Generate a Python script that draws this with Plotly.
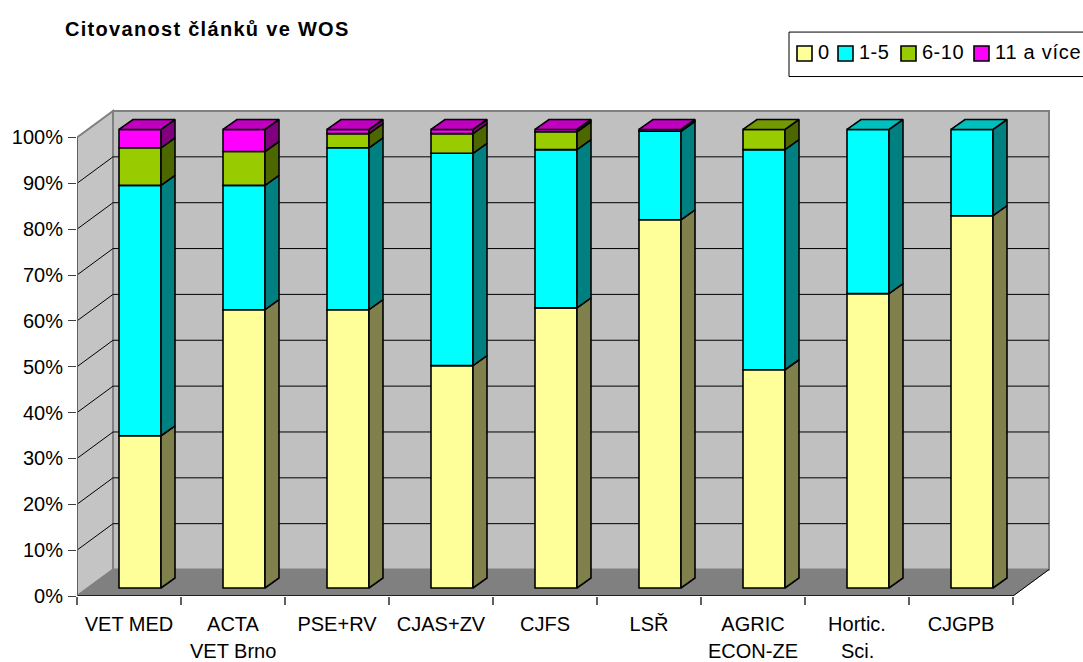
import plotly.graph_objects as go

categories = ["VET MED", "ACTA<br>VET Brno", "PSE+RV", "CJAS+ZV", "CJFS", "LSŘ", "AGRIC<br>ECON-ZE", "Hortic.<br>Sci.", "CJGPB"]
series_names = ["0", "1-5", "6-10", "11 a více"]
values_0 = [33.2, 60.7, 60.7, 48.5, 61.1, 80.3, 47.6, 64.2, 81.2]
values_1_5 = [54.6, 27.1, 35.3, 46.3, 34.5, 19.3, 48.0, 35.8, 18.8]
values_6_10 = [8.2, 7.4, 3.1, 4.3, 3.9, 0.0, 4.4, 0.0, 0.0]
values_11 = [4.0, 4.8, 0.9, 0.9, 0.5, 0.4, 0.0, 0.0, 0.0]
y_ticks = [0, 10, 20, 30, 40, 50, 60, 70, 80, 90, 100]

front_colors = ["#FFFF99", "#00FFFF", "#99CC00", "#FF00FF"]
side_colors = ["#80804D", "#008080", "#4C6600", "#800080"]
top_colors = ["#BFBF73", "#00BFBF", "#739900", "#BF00BF"]

# pixel geometry
PX_L, PX_R, PX_T, PX_B = 77, 1060, 100, 596.5
SLOT, UNIT = 104.0, 4.59
W, H = 1083, 662
wall_dx, wall_dy = 36 / SLOT, 26.5 / UNIT
bar_ox, bar_w = 42 / SLOT, 42 / SLOT
bar_oy = 8 / UNIT
depth_x, depth_y = 14 / SLOT, 10 / UNIT
n = len(categories)
all_series = [values_0, values_1_5, values_6_10, values_11]


def px(x):
    return (x - PX_L) / (PX_R - PX_L)


def py(y):
    return (PX_B - y) / (PX_B - PX_T)


fig = go.Figure()

cum = [0.0] * n
top_by_bar = [(0.0, 0)] * n
side_x, side_y = [[] for _ in all_series], [[] for _ in all_series]
for s, vals in enumerate(all_series):
    xs, ys, bases = [], [], []
    for i, v in enumerate(vals):
        if v <= 0:
            continue
        x0 = i + bar_ox
        x1 = x0 + bar_w
        b = cum[i] + bar_oy
        t = b + v
        xs.append(x0 + bar_w / 2)
        ys.append(v)
        bases.append(b)
        side_x[s] += [x1, x1 + depth_x, x1 + depth_x, x1, x1, None]
        side_y[s] += [b, b + depth_y, t + depth_y, t, b, None]
        cum[i] += v
        top_by_bar[i] = (cum[i], s)
    fig.add_trace(go.Bar(x=xs, y=ys, base=bases, width=bar_w, name=series_names[s],
                         marker=dict(color=front_colors[s], line=dict(color="black", width=1.6)),
                         showlegend=False))

for s in range(len(all_series)):
    fig.add_trace(go.Scatter(x=side_x[s], y=side_y[s], mode="lines", fill="toself",
                             fillcolor=side_colors[s], line=dict(color="black", width=1.6),
                             hoverinfo="skip", showlegend=False))
    tx, ty = [], []
    for i in range(n):
        total, top_s = top_by_bar[i]
        if top_s != s:
            continue
        x0 = i + bar_ox
        x1 = x0 + bar_w
        t = total + bar_oy
        tx += [x0, x0 + depth_x, x1 + depth_x, x1, x0, None]
        ty += [t, t + depth_y, t + depth_y, t, t, None]
    if tx:
        fig.add_trace(go.Scatter(x=tx, y=ty, mode="lines", fill="toself",
                                 fillcolor=top_colors[s], line=dict(color="black", width=1.6),
                                 hoverinfo="skip", showlegend=False))


def poly(points, fill, line=None, width=1.0, layer="below"):
    path = "M " + " L ".join(f"{a},{b}" for a, b in points) + " Z"
    return dict(type="path", path=path, xref="x", yref="y", fillcolor=fill, layer=layer,
                line=dict(color=line or fill, width=width))


def seg(x0, y0, x1, y1, color, width=1.0):
    return dict(type="line", xref="x", yref="y", x0=x0, y0=y0, x1=x1, y1=y1, layer="below",
                line=dict(color=color, width=width))


ymax = y_ticks[-1]
shapes = [
    poly([(wall_dx, wall_dy), (n + wall_dx, wall_dy), (n + wall_dx, ymax + wall_dy), (wall_dx, ymax + wall_dy)],
         "#C0C0C0", "#808080", 2),
    poly([(0, 0), (wall_dx, wall_dy), (wall_dx, ymax + wall_dy), (0, ymax)], "#C4C4C4", "#808080", 2),
    poly([(0, 0), (n, 0), (n + wall_dx, wall_dy), (wall_dx, wall_dy)], "#808080"),
]
for v in y_ticks[1:-1]:
    shapes.append(seg(0, v, wall_dx, v + wall_dy, "black"))
    shapes.append(seg(wall_dx, v + wall_dy, n + wall_dx, v + wall_dy, "black"))
shapes.append(seg(n, 0, n + wall_dx, wall_dy, "black"))
shapes.append(seg(0, 0, n, 0, "black", 1.6))
shapes.append(seg(0, 0, 0, ymax, "#606060", 2))

# legend frame
shapes.append(dict(type="rect", xref="paper", yref="paper", x0=px(789), x1=px(1090), y0=py(32), y1=py(76.5),
                   fillcolor="white", line=dict(color="black", width=1)))
annotations = [dict(text="<b>Citovanost článků ve WOS</b>", xref="paper", yref="paper", x=px(63), y=py(29),
                    xanchor="left", yanchor="middle", showarrow=False,
                    font=dict(family="Liberation Sans", size=20, color="black"))]
swatch_x = [797, 838, 901, 974]
for s, name in enumerate(series_names):
    shapes.append(dict(type="rect", xref="paper", yref="paper", x0=px(swatch_x[s]), x1=px(swatch_x[s] + 15),
                       y0=py(46), y1=py(61), fillcolor=front_colors[s], line=dict(color="black", width=1.6)))
    annotations.append(dict(text=name, xref="paper", yref="paper", x=px(swatch_x[s] + 19), y=py(51.5),
                            xanchor="left", yanchor="middle", showarrow=False,
                            font=dict(family="Liberation Sans", size=20, color="black")))

first_lines = [c.split("<br>")[0] for c in categories]
for i, c in enumerate(categories):
    if "<br>" in c:
        annotations.append(dict(text=c.split("<br>")[1], xref="x", yref="paper", x=i + 0.5, y=py(651.5),
                                xanchor="center", yanchor="middle", showarrow=False,
                                font=dict(family="Liberation Sans", size=20, color="black")))

fig.update_layout(
    width=W, height=H, autosize=False, paper_bgcolor="white", plot_bgcolor="white",
    margin=dict(l=PX_L, r=W - PX_R, t=PX_T, b=H - PX_B, pad=0), showlegend=False,
    barmode="overlay", shapes=shapes, annotations=annotations,
    font=dict(family="Liberation Sans", size=20, color="black"),
    xaxis=dict(range=[0, (PX_R - PX_L) / SLOT], tickmode="array", tickvals=[i + 0.5 for i in range(n)],
               ticktext=first_lines, ticks="", showgrid=False, zeroline=False, showline=False, tickangle=0,
               automargin=False, ticklabelstandoff=14,
               minor=dict(tickmode="array", tickvals=list(range(n + 1)), ticks="outside", ticklen=8,
                          tickcolor="#606060", tickwidth=1.5, showgrid=False)),
    yaxis=dict(range=[0, (PX_B - PX_T) / UNIT], tickmode="array", tickvals=y_ticks,
               ticktext=[f"{v}%" for v in y_ticks], ticks="outside", ticklen=8, tickcolor="#404040", tickwidth=1.2,
               showgrid=False, zeroline=False, showline=False, automargin=False, ticklabelstandoff=1),
)
post = """
document.body.style.margin='0';document.body.style.overflow='hidden';
var sp={'Citovanost článků ve WOS':'1.3px','11 a více':'0.75px','6-10':'0.5px','1-5':'0.5px'};
document.querySelectorAll('.annotation-text').forEach(function(t){
  var k=t.textContent;
  if(sp[k]){
    var a=t.getBBox().x; t.style.letterSpacing=sp[k]; var b=t.getBBox().x;
    t.setAttribute('x', parseFloat(t.getAttribute('x'))+a-b);
  }
});
"""
fig.write_html("out.html", config=dict(displayModeBar=False), post_script=post)
